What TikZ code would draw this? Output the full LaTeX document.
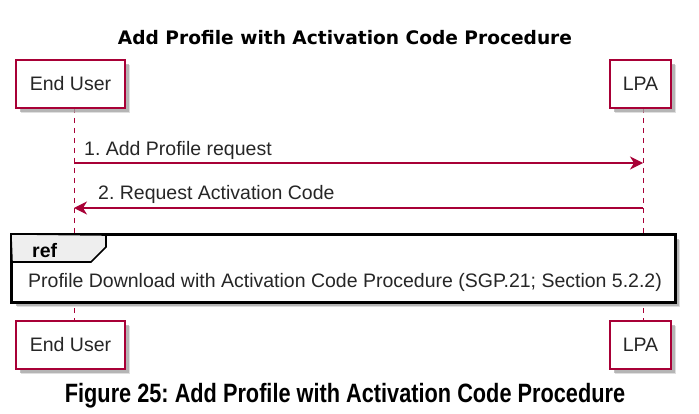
\documentclass[tikz,border=0pt]{standalone}
\usepackage{fontspec}
\setmainfont{Liberation Sans}
\newfontfamily\titlefont{DejaVu Sans}
\usetikzlibrary{arrows.meta,shadows,positioning}
\definecolor{puml}{HTML}{A80036}
\definecolor{tabgray}{HTML}{EEEEEE}
\frenchspacing
\tikzset{
  softshadow/.style={
    drop shadow={shadow xshift=5pt, shadow yshift=-5pt, fill=black!25, opacity=0.5},
    drop shadow={shadow xshift=4pt, shadow yshift=-4pt, fill=black!40, opacity=0.6}},
  actorbox/.style={draw=puml, line width=1.4pt, fill=white, minimum height=48pt, inner sep=0pt,
    font=\fontsize{19.5}{22}\selectfont, text=black!85, softshadow},
  refframe/.style={draw=black, line width=2.2pt, fill=white, inner sep=0pt, softshadow},
  lifeline/.style={draw=puml, line width=1pt, dash pattern=on 5pt off 5pt},
  msg/.style={draw=puml, line width=1.2pt, -{Stealth[length=13pt,width=13pt,inset=4pt]}},
  msglabel/.style={anchor=west, font=\fontsize{19.5}{22}\selectfont, text=black!85, inner sep=0pt},
}
\begin{document}
\begin{tikzpicture}[x=1pt,y=-1pt]
\useasboundingbox (0,0) rectangle (699,414);
% title
\node[font=\titlefont\bfseries\fontsize{18.6}{22}\selectfont] (title) at (345,38) {Add Profile with Activation Code Procedure};
% lifelines (drawn first)
\coordinate (eutop) at (74,108);
\coordinate (eubot) at (74,321);
\coordinate (lpatop) at (643,108);
\coordinate (lpabot) at (643,321);
\draw[lifeline] (eutop) -- (eubot);
\draw[lifeline] (lpatop) -- (lpabot);
% participants
\node[actorbox, minimum width=109pt] (eu1) at (70.5,84) {End User};
\node[actorbox, minimum width=61pt] (lpa1) at (640.5,84) {LPA};
\node[actorbox, minimum width=109pt] (eu2) at (70.5,345) {End User};
\node[actorbox, minimum width=61pt] (lpa2) at (640.5,345) {LPA};
% messages
\coordinate (m1a) at (74,163);
\coordinate (m1b) at (643,163);
\coordinate (m2a) at (643,208);
\coordinate (m2b) at (74,208);
\draw[msg] (m1a) -- (m1b);
\node[msglabel] (l1) at (84,150) {1. Add Profile request};
\draw[msg] (m2a) -- (m2b);
\node[msglabel] (l2) at (98,194) {2. Request Activation Code};
% ref box
\node[refframe, minimum width=663pt, minimum height=67pt] (ref) at (343.5,268.5) {};
\draw[black, line width=1.6pt, fill=tabgray] (ref.north west) -- (106,235) -- (106,247) -- (91,262) -- (12,262) -- cycle;
\draw[black, line width=2.2pt] (ref.north west) rectangle (ref.south east);
\node[font=\bfseries\fontsize{19.5}{22}\selectfont, anchor=west, inner sep=0pt] (reflbl) at (32,251) {ref};
\node[msglabel] (reftext) at (28,282) {Profile Download with Activation Code Procedure (SGP.21; Section 5.2.2)};
% caption
\node[inner sep=0pt] (caption) at (345,396) {\scalebox{0.82}[1]{\bfseries\fontsize{26.5}{30}\selectfont Figure 25: Add Profile with Activation Code Procedure}};
\end{tikzpicture}
\end{document}
